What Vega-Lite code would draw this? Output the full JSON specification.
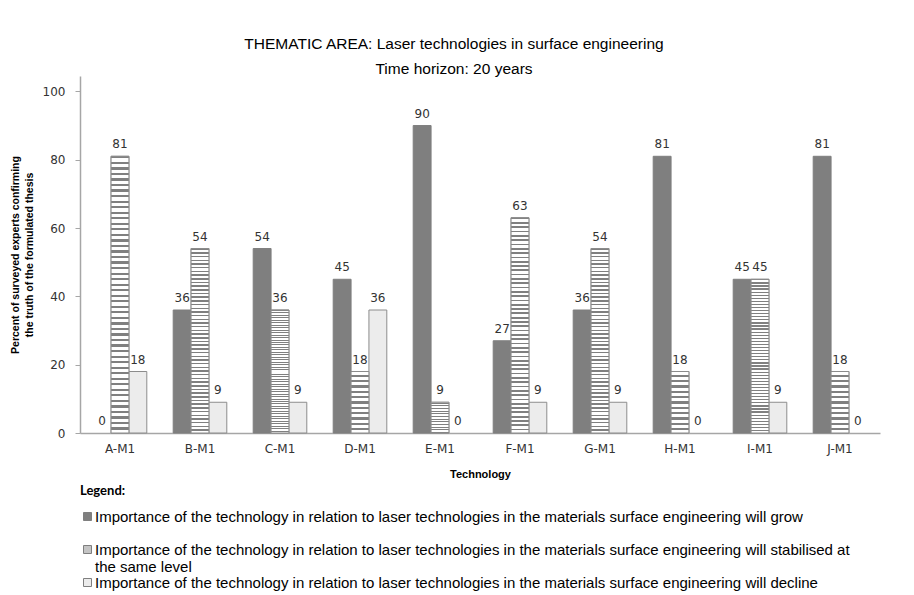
{
  "$schema": "https://vega.github.io/schema/vega-lite/v6.json",
  "width": 800,
  "height": 357,
  "padding": {"left": 10, "top": 36, "right": 5, "bottom": 2},
  "background": "white",
  "title": {
    "text": ["THEMATIC AREA: Laser technologies in surface engineering", "Time horizon: 20 years"],
    "font": "Liberation Sans",
    "fontSize": 15.5,
    "fontWeight": "normal",
    "lineHeight": 25,
    "color": "#000000",
    "anchor": "middle",
    "dx": -26,
    "offset": -1
  },
  "config": {
    "view": {"stroke": null},
    "axis": {"grid": false}
  },
  "data": {
    "values": [
      {"tech": "A-M1", "series": "grow", "value": 0},
      {"tech": "A-M1", "series": "stab", "value": 81},
      {"tech": "A-M1", "series": "decline", "value": 18},
      {"tech": "B-M1", "series": "grow", "value": 36},
      {"tech": "B-M1", "series": "stab", "value": 54},
      {"tech": "B-M1", "series": "decline", "value": 9},
      {"tech": "C-M1", "series": "grow", "value": 54},
      {"tech": "C-M1", "series": "stab", "value": 36},
      {"tech": "C-M1", "series": "decline", "value": 9},
      {"tech": "D-M1", "series": "grow", "value": 45},
      {"tech": "D-M1", "series": "stab", "value": 18},
      {"tech": "D-M1", "series": "decline", "value": 36},
      {"tech": "E-M1", "series": "grow", "value": 90},
      {"tech": "E-M1", "series": "stab", "value": 9},
      {"tech": "E-M1", "series": "decline", "value": 0},
      {"tech": "F-M1", "series": "grow", "value": 27},
      {"tech": "F-M1", "series": "stab", "value": 63},
      {"tech": "F-M1", "series": "decline", "value": 9},
      {"tech": "G-M1", "series": "grow", "value": 36},
      {"tech": "G-M1", "series": "stab", "value": 54},
      {"tech": "G-M1", "series": "decline", "value": 9},
      {"tech": "H-M1", "series": "grow", "value": 81},
      {"tech": "H-M1", "series": "stab", "value": 18},
      {"tech": "H-M1", "series": "decline", "value": 0},
      {"tech": "I-M1", "series": "grow", "value": 45},
      {"tech": "I-M1", "series": "stab", "value": 45},
      {"tech": "I-M1", "series": "decline", "value": 9},
      {"tech": "J-M1", "series": "grow", "value": 81},
      {"tech": "J-M1", "series": "stab", "value": 18},
      {"tech": "J-M1", "series": "decline", "value": 0}
    ]
  },
  "encoding": {
    "x": {
      "field": "tech",
      "type": "nominal",
      "sort": null,
      "scale": {"paddingInner": 0.33, "paddingOuter": 0.165},
      "axis": {
        "title": "Technology",
        "titleFont": "Liberation Sans",
        "titleFontSize": 11,
        "titleFontWeight": "bold",
        "titleColor": "#000000",
        "titlePadding": 14,
        "labelFont": "DejaVu Sans",
        "labelFontSize": 12,
        "labelColor": "#333333",
        "labelAngle": 0,
        "labelPadding": 10,
        "ticks": false,
        "domainColor": "#a6a6a6",
        "domainWidth": 1.5
      }
    },
    "xOffset": {"field": "series", "type": "nominal", "sort": ["grow", "stab", "decline"], "scale": {"domain": ["grow", "stab", "decline"]}},
    "y": {
      "field": "value",
      "type": "quantitative",
      "scale": {"domain": [0, 104.5], "nice": false},
      "axis": {
        "values": [0, 20, 40, 60, 80, 100],
        "title": ["Percent of surveyed experts confirming", "the truth of the formulated thesis"],
        "titleFont": "Liberation Sans",
        "titleFontSize": 10.5,
        "titleFontWeight": "bold",
        "titleColor": "#000000",
        "titlePadding": 8,
        "titleLineHeight": 14,
        "labelFont": "DejaVu Sans",
        "labelFontSize": 12,
        "labelColor": "#333333",
        "labelPadding": 10,
        "tickSize": 5,
        "tickColor": "#a6a6a6",
        "domainColor": "#a6a6a6",
        "domainWidth": 1.5
      }
    }
  },
  "layer": [
    {
      "mark": {"type": "bar", "strokeWidth": 1},
      "encoding": {
        "color": {
          "field": "series",
          "type": "nominal",
          "sort": ["grow", "stab", "decline"],
          "scale": {"domain": ["grow", "stab", "decline"], "range": ["#7f7f7f", "#c4c4c4", "#ececec"]},
          "legend": {
            "orient": "bottom",
            "direction": "vertical",
            "gridAlign": "all",
            "title": "Legend:",
            "titleFont": "Lato",
            "titleFontSize": 13,
            "titleFontWeight": "bold",
            "titleColor": "#000000",
            "titlePadding": 11,
            "labelFont": "Liberation Sans",
            "labelFontSize": 15,
            "labelColor": "#000000",
            "labelLimit": 900,
            "labelOffset": 0,
            "symbolType": "square",
            "symbolSize": 64,
            "symbolStrokeColor": "#7f7f7f",
            "symbolStrokeWidth": 1,
            "rowPadding": 0,
            "offset": 6,
            "padding": 0,
            "encode": {
              "labels": {"update": {"lineHeight": {"value": 17}}},
              "symbols": {"update": {
                "fill": {"signal": "datum.value === 'decline' ? '#ffffff' : scale('color', datum.value)"},
                "stroke": {"value": "#7f7f7f"},
                "strokeWidth": {"value": 1}
              }}
            },
            "labelExpr": "datum.value === 'grow' ? 'Importance of the technology in relation to laser technologies in the materials surface engineering will grow' : datum.value === 'stab' ? ['Importance of the technology in relation to laser technologies in the materials surface engineering will stabilised at', 'the same level'] : 'Importance of the technology in relation to laser technologies in the materials surface engineering will decline'"
          }
        },
        "stroke": {
          "condition": [
            {"test": "datum.value === 0", "value": "transparent"},
            {"test": "datum.series === 'grow'", "value": "#7f7f7f"}
          ],
          "value": "#8c8c8c"
        }
      }
    },
    {
      "transform": [{"filter": "datum.series === 'stab'"}],
      "mark": {
        "type": "bar",
        "strokeWidth": 1,
        "stroke": "#8c8c8c",
        "fill": {
          "gradient": "linear",
          "x1": 0, "y1": 0, "x2": 0, "y2": 1,
          "stops": [
            {"offset": 0, "color": "#808080"}, {"offset": 0.008, "color": "#808080"}, {"offset": 0.008, "color": "#ffffff"}, {"offset": 0.02, "color": "#ffffff"},
            {"offset": 0.02, "color": "#808080"}, {"offset": 0.028, "color": "#808080"}, {"offset": 0.028, "color": "#ffffff"}, {"offset": 0.04, "color": "#ffffff"},
            {"offset": 0.04, "color": "#808080"}, {"offset": 0.048, "color": "#808080"}, {"offset": 0.048, "color": "#ffffff"}, {"offset": 0.06, "color": "#ffffff"},
            {"offset": 0.06, "color": "#808080"}, {"offset": 0.068, "color": "#808080"}, {"offset": 0.068, "color": "#ffffff"}, {"offset": 0.08, "color": "#ffffff"},
            {"offset": 0.08, "color": "#808080"}, {"offset": 0.088, "color": "#808080"}, {"offset": 0.088, "color": "#ffffff"}, {"offset": 0.1, "color": "#ffffff"},
            {"offset": 0.1, "color": "#808080"}, {"offset": 0.108, "color": "#808080"}, {"offset": 0.108, "color": "#ffffff"}, {"offset": 0.12, "color": "#ffffff"},
            {"offset": 0.12, "color": "#808080"}, {"offset": 0.128, "color": "#808080"}, {"offset": 0.128, "color": "#ffffff"}, {"offset": 0.14, "color": "#ffffff"},
            {"offset": 0.14, "color": "#808080"}, {"offset": 0.148, "color": "#808080"}, {"offset": 0.148, "color": "#ffffff"}, {"offset": 0.16, "color": "#ffffff"},
            {"offset": 0.16, "color": "#808080"}, {"offset": 0.168, "color": "#808080"}, {"offset": 0.168, "color": "#ffffff"}, {"offset": 0.18, "color": "#ffffff"},
            {"offset": 0.18, "color": "#808080"}, {"offset": 0.188, "color": "#808080"}, {"offset": 0.188, "color": "#ffffff"}, {"offset": 0.2, "color": "#ffffff"},
            {"offset": 0.2, "color": "#808080"}, {"offset": 0.208, "color": "#808080"}, {"offset": 0.208, "color": "#ffffff"}, {"offset": 0.22, "color": "#ffffff"},
            {"offset": 0.22, "color": "#808080"}, {"offset": 0.228, "color": "#808080"}, {"offset": 0.228, "color": "#ffffff"}, {"offset": 0.24, "color": "#ffffff"},
            {"offset": 0.24, "color": "#808080"}, {"offset": 0.248, "color": "#808080"}, {"offset": 0.248, "color": "#ffffff"}, {"offset": 0.26, "color": "#ffffff"},
            {"offset": 0.26, "color": "#808080"}, {"offset": 0.268, "color": "#808080"}, {"offset": 0.268, "color": "#ffffff"}, {"offset": 0.28, "color": "#ffffff"},
            {"offset": 0.28, "color": "#808080"}, {"offset": 0.288, "color": "#808080"}, {"offset": 0.288, "color": "#ffffff"}, {"offset": 0.3, "color": "#ffffff"},
            {"offset": 0.3, "color": "#808080"}, {"offset": 0.308, "color": "#808080"}, {"offset": 0.308, "color": "#ffffff"}, {"offset": 0.32, "color": "#ffffff"},
            {"offset": 0.32, "color": "#808080"}, {"offset": 0.328, "color": "#808080"}, {"offset": 0.328, "color": "#ffffff"}, {"offset": 0.34, "color": "#ffffff"},
            {"offset": 0.34, "color": "#808080"}, {"offset": 0.348, "color": "#808080"}, {"offset": 0.348, "color": "#ffffff"}, {"offset": 0.36, "color": "#ffffff"},
            {"offset": 0.36, "color": "#808080"}, {"offset": 0.368, "color": "#808080"}, {"offset": 0.368, "color": "#ffffff"}, {"offset": 0.38, "color": "#ffffff"},
            {"offset": 0.38, "color": "#808080"}, {"offset": 0.388, "color": "#808080"}, {"offset": 0.388, "color": "#ffffff"}, {"offset": 0.4, "color": "#ffffff"},
            {"offset": 0.4, "color": "#808080"}, {"offset": 0.408, "color": "#808080"}, {"offset": 0.408, "color": "#ffffff"}, {"offset": 0.42, "color": "#ffffff"},
            {"offset": 0.42, "color": "#808080"}, {"offset": 0.428, "color": "#808080"}, {"offset": 0.428, "color": "#ffffff"}, {"offset": 0.44, "color": "#ffffff"},
            {"offset": 0.44, "color": "#808080"}, {"offset": 0.448, "color": "#808080"}, {"offset": 0.448, "color": "#ffffff"}, {"offset": 0.46, "color": "#ffffff"},
            {"offset": 0.46, "color": "#808080"}, {"offset": 0.468, "color": "#808080"}, {"offset": 0.468, "color": "#ffffff"}, {"offset": 0.48, "color": "#ffffff"},
            {"offset": 0.48, "color": "#808080"}, {"offset": 0.488, "color": "#808080"}, {"offset": 0.488, "color": "#ffffff"}, {"offset": 0.5, "color": "#ffffff"},
            {"offset": 0.5, "color": "#808080"}, {"offset": 0.508, "color": "#808080"}, {"offset": 0.508, "color": "#ffffff"}, {"offset": 0.52, "color": "#ffffff"},
            {"offset": 0.52, "color": "#808080"}, {"offset": 0.528, "color": "#808080"}, {"offset": 0.528, "color": "#ffffff"}, {"offset": 0.54, "color": "#ffffff"},
            {"offset": 0.54, "color": "#808080"}, {"offset": 0.548, "color": "#808080"}, {"offset": 0.548, "color": "#ffffff"}, {"offset": 0.56, "color": "#ffffff"},
            {"offset": 0.56, "color": "#808080"}, {"offset": 0.568, "color": "#808080"}, {"offset": 0.568, "color": "#ffffff"}, {"offset": 0.58, "color": "#ffffff"},
            {"offset": 0.58, "color": "#808080"}, {"offset": 0.588, "color": "#808080"}, {"offset": 0.588, "color": "#ffffff"}, {"offset": 0.6, "color": "#ffffff"},
            {"offset": 0.6, "color": "#808080"}, {"offset": 0.608, "color": "#808080"}, {"offset": 0.608, "color": "#ffffff"}, {"offset": 0.62, "color": "#ffffff"},
            {"offset": 0.62, "color": "#808080"}, {"offset": 0.628, "color": "#808080"}, {"offset": 0.628, "color": "#ffffff"}, {"offset": 0.64, "color": "#ffffff"},
            {"offset": 0.64, "color": "#808080"}, {"offset": 0.648, "color": "#808080"}, {"offset": 0.648, "color": "#ffffff"}, {"offset": 0.66, "color": "#ffffff"},
            {"offset": 0.66, "color": "#808080"}, {"offset": 0.668, "color": "#808080"}, {"offset": 0.668, "color": "#ffffff"}, {"offset": 0.68, "color": "#ffffff"},
            {"offset": 0.68, "color": "#808080"}, {"offset": 0.688, "color": "#808080"}, {"offset": 0.688, "color": "#ffffff"}, {"offset": 0.7, "color": "#ffffff"},
            {"offset": 0.7, "color": "#808080"}, {"offset": 0.708, "color": "#808080"}, {"offset": 0.708, "color": "#ffffff"}, {"offset": 0.72, "color": "#ffffff"},
            {"offset": 0.72, "color": "#808080"}, {"offset": 0.728, "color": "#808080"}, {"offset": 0.728, "color": "#ffffff"}, {"offset": 0.74, "color": "#ffffff"},
            {"offset": 0.74, "color": "#808080"}, {"offset": 0.748, "color": "#808080"}, {"offset": 0.748, "color": "#ffffff"}, {"offset": 0.76, "color": "#ffffff"},
            {"offset": 0.76, "color": "#808080"}, {"offset": 0.768, "color": "#808080"}, {"offset": 0.768, "color": "#ffffff"}, {"offset": 0.78, "color": "#ffffff"},
            {"offset": 0.78, "color": "#808080"}, {"offset": 0.788, "color": "#808080"}, {"offset": 0.788, "color": "#ffffff"}, {"offset": 0.8, "color": "#ffffff"},
            {"offset": 0.8, "color": "#808080"}, {"offset": 0.808, "color": "#808080"}, {"offset": 0.808, "color": "#ffffff"}, {"offset": 0.82, "color": "#ffffff"},
            {"offset": 0.82, "color": "#808080"}, {"offset": 0.828, "color": "#808080"}, {"offset": 0.828, "color": "#ffffff"}, {"offset": 0.84, "color": "#ffffff"},
            {"offset": 0.84, "color": "#808080"}, {"offset": 0.848, "color": "#808080"}, {"offset": 0.848, "color": "#ffffff"}, {"offset": 0.86, "color": "#ffffff"},
            {"offset": 0.86, "color": "#808080"}, {"offset": 0.868, "color": "#808080"}, {"offset": 0.868, "color": "#ffffff"}, {"offset": 0.88, "color": "#ffffff"},
            {"offset": 0.88, "color": "#808080"}, {"offset": 0.888, "color": "#808080"}, {"offset": 0.888, "color": "#ffffff"}, {"offset": 0.9, "color": "#ffffff"},
            {"offset": 0.9, "color": "#808080"}, {"offset": 0.908, "color": "#808080"}, {"offset": 0.908, "color": "#ffffff"}, {"offset": 0.92, "color": "#ffffff"},
            {"offset": 0.92, "color": "#808080"}, {"offset": 0.928, "color": "#808080"}, {"offset": 0.928, "color": "#ffffff"}, {"offset": 0.94, "color": "#ffffff"},
            {"offset": 0.94, "color": "#808080"}, {"offset": 0.948, "color": "#808080"}, {"offset": 0.948, "color": "#ffffff"}, {"offset": 0.96, "color": "#ffffff"},
            {"offset": 0.96, "color": "#808080"}, {"offset": 0.968, "color": "#808080"}, {"offset": 0.968, "color": "#ffffff"}, {"offset": 0.98, "color": "#ffffff"},
            {"offset": 0.98, "color": "#808080"}, {"offset": 0.988, "color": "#808080"}, {"offset": 0.988, "color": "#ffffff"}, {"offset": 1, "color": "#ffffff"}
          ]
        }
      },
      "encoding": {}
    },
    {
      "mark": {
        "type": "text",
        "baseline": "bottom",
        "dy": -5,
        "font": "DejaVu Sans",
        "fontSize": 12,
        "color": "#333333"
      },
      "encoding": {
        "text": {"field": "value", "type": "quantitative"}
      }
    }
  ]
}
